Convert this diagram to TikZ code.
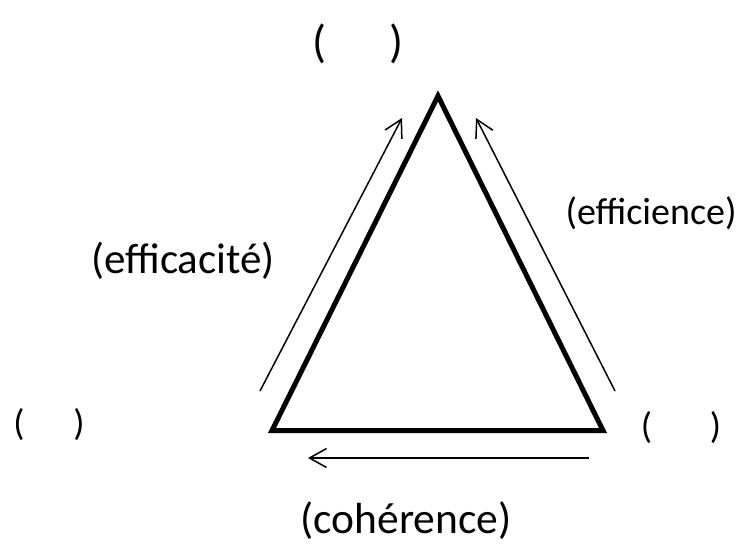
\documentclass[tikz,border=0pt]{standalone}
\usepackage{fontspec}
\setmainfont{Carlito}
\usetikzlibrary{arrows.meta}
\tikzset{
  every node/.style={inner sep=0pt, text=black},
  lbl/.style={font=\fontsize{43}{48}\selectfont},
  sidelbl/.style={font=\fontsize{38}{42}\selectfont},
  biglbl/.style={font=\fontsize{43.5}{48}\selectfont},
  emptylbl/.style={font=\fontsize{37}{42}\selectfont},
  toplbl/.style={font=\fontsize{46}{50}\selectfont},
  side/.style={draw=black, line width=5pt, miter limit=20, line join=miter},
  arr/.style={-{Straight Barb[length=17pt, width=19pt, line width=1.5pt]}, line width=1.5pt, draw=black},
}
\begin{document}
\begin{tikzpicture}[x=1pt, y=-1pt]
\useasboundingbox (0,0) rectangle (747,551);

% --- triangle corners ---
\coordinate (apex) at (438,96);
\coordinate (baseL) at (272,430.5);
\coordinate (baseR) at (603,430.5);
\draw[side] (apex) -- (baseL) -- (baseR) -- cycle;

% --- arrow ends ---
\coordinate (effaS) at (260,391);
\coordinate (effaE) at (402,118);
\coordinate (effiS) at (615,391);
\coordinate (effiE) at (476,118);
\coordinate (cohS) at (589,458);
\coordinate (cohE) at (308,458);

\draw[arr] (effaS) -- (effaE);
\draw[arr] (effiS) -- (effiE);
\draw[arr] (cohS) -- (cohE);

% --- labels ---
\node[toplbl] (topgoal) at (358,44) {(\hspace{63pt})};
\node[lbl] (efficacite) at (183,261) {(efficacité)};
\node[sidelbl] (efficience) at (651,213) {(efficience)};
\node[biglbl] (coherence) at (406,521) {(cohérence)};
\node[emptylbl] (leftgoal) at (49,425) {(\hspace{49pt})};
\node[emptylbl] (rightgoal) at (681,428) {(\hspace{58pt})};

\end{tikzpicture}
\end{document}
